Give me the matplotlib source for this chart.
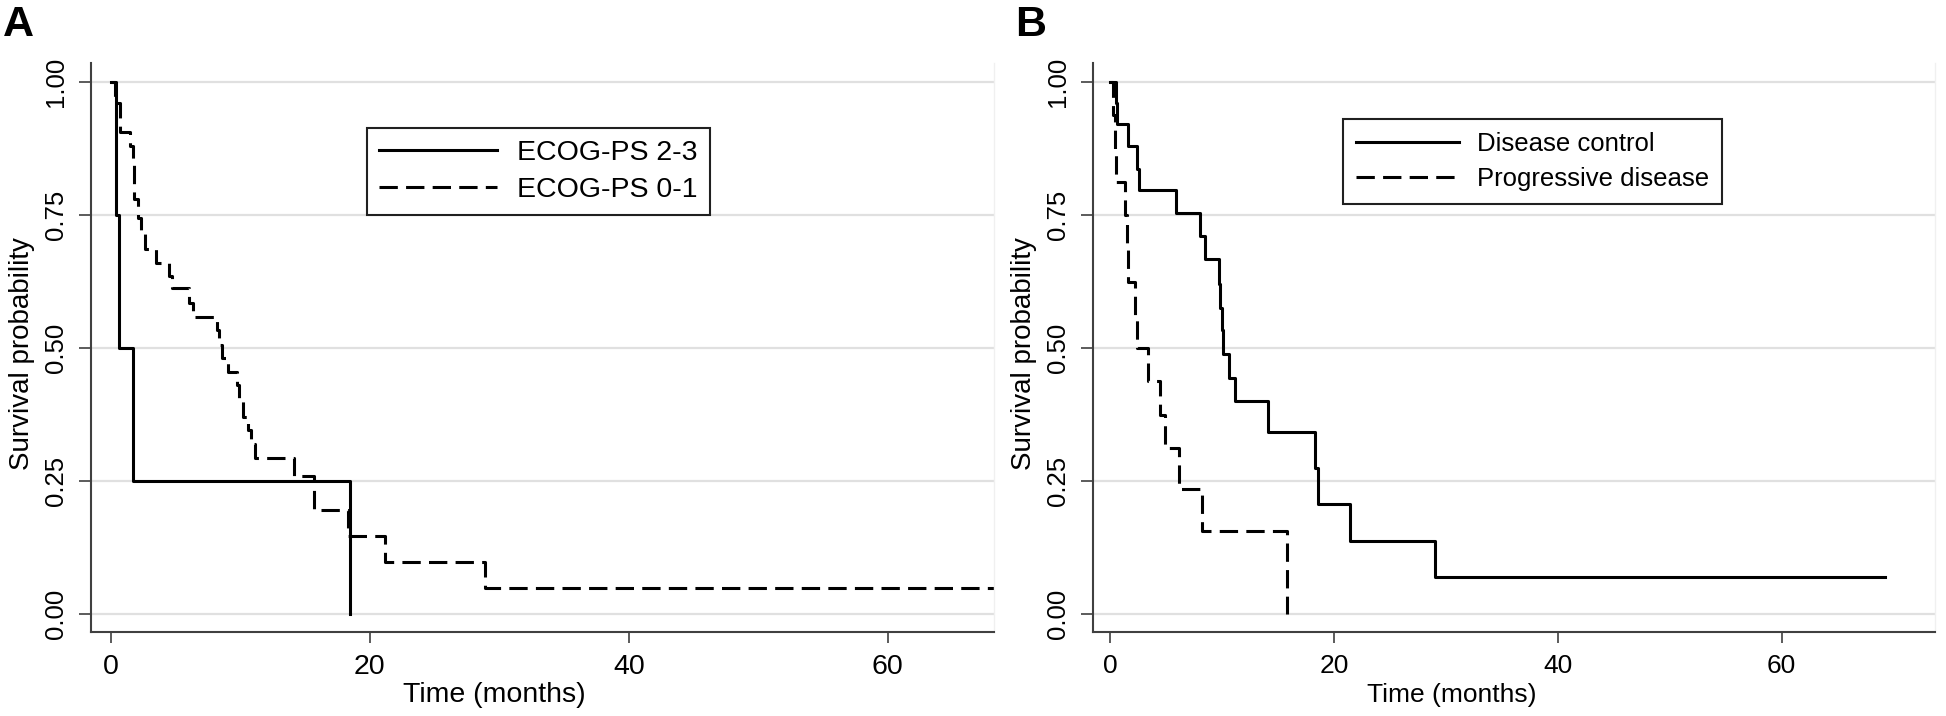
import matplotlib
matplotlib.use("Agg")
import matplotlib.pyplot as plt

plt.rcParams['font.family'] = ['Liberation Sans', 'DejaVu Sans']

# ---------------- data ----------------
# Panel A: ECOG performance status
ecog23_time = [0, 0.4, 0.6, 1.7, 18.5]
ecog23_surv = [1.0, 0.75, 0.50, 0.25, 0.0]

ecog01_time = [0, 0.3, 0.7, 1.5, 1.72, 1.75, 1.78, 1.8, 2.1, 2.3, 2.6, 3.5, 4.5, 4.7,
               6.0, 6.3, 8.2, 8.35, 8.6, 9.06, 9.7, 9.9, 10.2, 10.6, 10.8, 11.1,
               14.1, 15.7, 18.3, 21.2, 28.9, 68.2]
ecog01_surv = [1.0, 0.96, 0.907, 0.88, 0.855, 0.83, 0.805, 0.78, 0.745, 0.72, 0.687,
               0.66, 0.635, 0.612, 0.585, 0.559, 0.533, 0.505, 0.481, 0.455, 0.43,
               0.40, 0.371, 0.346, 0.32, 0.294, 0.26, 0.195, 0.147, 0.098, 0.049, 0.049]

# Panel B: response
dc_time = [0, 0.5, 0.6, 1.6, 2.4, 2.6, 5.9, 8.0, 8.5, 9.7, 9.85, 10.0, 10.1, 10.6,
           11.2, 14.1, 18.3, 18.6, 21.4, 29.0, 69.2]
dc_surv = [1.0, 0.96, 0.922, 0.879, 0.836, 0.797, 0.754, 0.711, 0.667, 0.62, 0.576,
           0.533, 0.489, 0.444, 0.40, 0.343, 0.274, 0.206, 0.137, 0.069, 0.069]

pd_time = [0, 0.3, 0.45, 0.55, 1.35, 1.5, 1.6, 2.2, 2.4, 3.4, 4.5, 4.9, 6.2, 8.2, 15.8]
pd_surv = [1.0, 0.9375, 0.875, 0.8125, 0.75, 0.6875, 0.625, 0.5625, 0.5, 0.4375,
           0.375, 0.3125, 0.234, 0.156, 0.0]

labels_A = ["ECOG-PS 2-3", "ECOG-PS 0-1"]
labels_B = ["Disease control", "Progressive disease"]
x_ticks = [0, 20, 40, 60]
y_ticks = [0.0, 0.25, 0.50, 0.75, 1.00]
y_ticklabels = ["0.00", "0.25", "0.50", "0.75", "1.00"]

# ---------------- figure ----------------
W, H = 1946, 716
fig = plt.figure(figsize=(W / 100, H / 100), dpi=100)

axA = fig.add_axes([91 / W, 1 - 632 / H, (994 - 91) / W, (632 - 63) / H])
axB = fig.add_axes([1093 / W, 1 - 632 / H, (1935 - 1093) / W, (632 - 63) / H])

LW = 2.2
DASH = (0, (6, 2.7))
SPINE = '#404040'


def style(ax, xlim, xlab_x, xfs, xlabfs):
    ax.set_xlim(*xlim)
    ax.set_ylim(-0.034, 1.036)
    ax.set_xticks(x_ticks)
    ax.set_yticks(y_ticks)
    ax.set_yticklabels(y_ticklabels, rotation=90, va='center')
    ax.yaxis.grid(True, color='#e0e0e0', lw=1.6)
    ax.set_axisbelow(True)
    ax.spines['top'].set_visible(False)
    ax.spines['right'].set_color('#f0f0f0')
    ax.spines['right'].set_linewidth(1.0)
    for s in ['left', 'bottom']:
        ax.spines[s].set_color(SPINE)
        ax.spines[s].set_linewidth(1.5)
    ax.tick_params(axis='y', direction='out', length=8.6, width=1.2, color=SPINE,
                   pad=8, labelsize=18.5, labelcolor='black')
    ax.tick_params(axis='x', direction='out', length=8, width=1.2, color=SPINE,
                   pad=8, labelsize=xfs, labelcolor='black')
    ax.set_xlabel("Time (months)", fontsize=xlabfs, va='center')
    ax.xaxis.set_label_coords(xlab_x, -0.1107)
    ax.set_ylabel("Survival probability", fontsize=20, va='center')
    ax.yaxis.set_label_coords(-69 / (ax.get_position().width * W), 0.49)


# Panel A
axA.step(ecog23_time, ecog23_surv, where='post', color='black', lw=LW, label=labels_A[0])
axA.step(ecog01_time, ecog01_surv, where='post', color='black', lw=LW, linestyle=DASH,
         label=labels_A[1])
style(axA, (-1.54, 68.2), 0.4463, 20.5, 20.5)

# Panel B
axB.step(dc_time, dc_surv, where='post', color='black', lw=LW, label=labels_B[0])
axB.step(pd_time, pd_surv, where='post', color='black', lw=LW, linestyle=DASH,
         label=labels_B[1])
style(axB, (-1.52, 73.7), 0.4264, 19, 19)


def legend(ax, anchor, hlen, fs, bpad, lspace):
    leg = ax.legend(loc='upper left', bbox_to_anchor=(anchor[0] / W, 1 - anchor[1] / H),
                    bbox_transform=fig.transFigure, borderaxespad=0, fontsize=fs,
                    frameon=True, fancybox=False, shadow=False, handlelength=hlen,
                    handletextpad=0.7, borderpad=bpad, labelspacing=lspace)
    fr = leg.get_frame()
    fr.set_edgecolor('#202020')
    fr.set_linewidth(1.5)
    fr.set_alpha(1)
    return leg


legend(axA, (367, 128), 4.15, 20.5, 0.42, 0.38)
legend(axB, (1343, 119), 4.0, 18.5, 0.5, 0.45)

fig.text(3 / W, 1 - 5 / H, "A", fontsize=31, fontweight='bold', ha='left', va='top')
fig.text(1015 / W, 1 - 5 / H, "B", fontsize=31, fontweight='bold', ha='left', va='top')

fig.savefig("out.png", dpi=100)
